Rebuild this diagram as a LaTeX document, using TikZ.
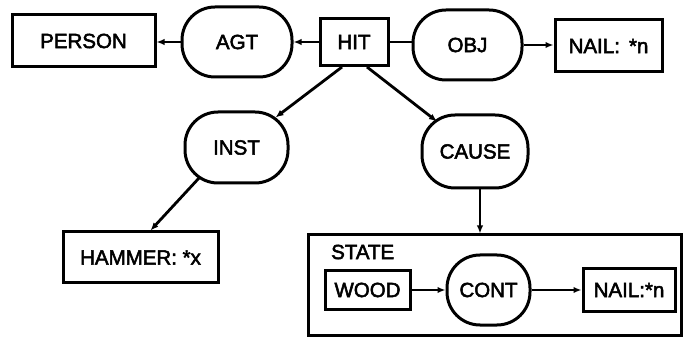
\documentclass[tikz,border=0pt]{standalone}
\usepackage{fontspec}
\setmainfont[FakeBold=2.5]{Liberation Sans}
\usetikzlibrary{arrows.meta}
\begin{document}
\begin{tikzpicture}[x=1pt,y=1pt,
  every node/.style={font=\fontsize{20.5}{24}\selectfont, inner sep=0pt},
  box/.style={draw, line width=3pt, rectangle},
  oval/.style={draw, line width=3pt, rounded corners=33pt},
  link/.style={line width=2.8pt},
  arrow/.style={link, -{Latex[length=8pt,width=6.5pt]}}]
\useasboundingbox (0,0) rectangle (683,-339);

% top row: the HIT concept with agent and object
\node[box, minimum width=143pt, minimum height=52pt] (person) at (83.5,-41) {PERSON};
\node[oval, minimum width=110pt, minimum height=70pt] (agt) at (237,-42) {AGT};
\node[box, minimum width=68pt, minimum height=47pt] (hit) at (354,-42) {HIT};
\node[oval, minimum width=109pt, minimum height=70pt] (obj) at (467.5,-45) {OBJ};
\node[box, minimum width=107pt, minimum height=52pt] (nail1) at (608.5,-46) {NAIL:\, *n};

% middle row: instrument and cause
\node[oval, minimum width=103pt, minimum height=71pt] (inst) at (236.5,-147.5) {INST};
\node[oval, minimum width=106pt, minimum height=73pt] (cause) at (475,-151.5) {CAUSE};

% bottom row
\node[box, minimum width=155pt, minimum height=51pt] (hammer) at (140.5,-257.5) {HAMMER: *x};
\node[box, minimum width=373pt, minimum height=100pt] (state) at (494.5,-285) {};
\node[anchor=west] (statelbl) at (331,-252) {STATE};
\node[box, minimum width=85pt, minimum height=38pt] (wood) at (367.5,-290) {WOOD};
\node[oval, minimum width=83pt, minimum height=70pt] (cont) at (488.5,-290) {CONT};
\node[box, minimum width=92pt, minimum height=43pt] (nail2) at (629,-290) {NAIL:*n};

% relations
\draw[arrow] (agt.west) -- (agt.west -| person.east);
\draw[arrow] (hit.west) -- (agt.east);
\draw[link] (hit.east) -- (hit.east -| obj.west);
\draw[arrow] (obj.east) -- (obj.east -| nail1.west);
\draw[arrow] ([xshift=-12pt]hit.south) -- ([shift={(39pt,30pt)}]inst.center);
\draw[arrow] ([xshift=13pt]hit.south) -- ([shift={(-38pt,30pt)}]cause.center);
\draw[arrow] ([shift={(-37pt,-30pt)}]inst.center) -- ([xshift=10pt]hammer.north);
\draw[arrow] ([xshift=5pt]cause.south) -- ([xshift=5pt]cause.south |- state.north);
\draw[arrow] (wood.east) -- (cont.west);
\draw[arrow] (cont.east) -- (nail2.west);
\end{tikzpicture}
\end{document}
